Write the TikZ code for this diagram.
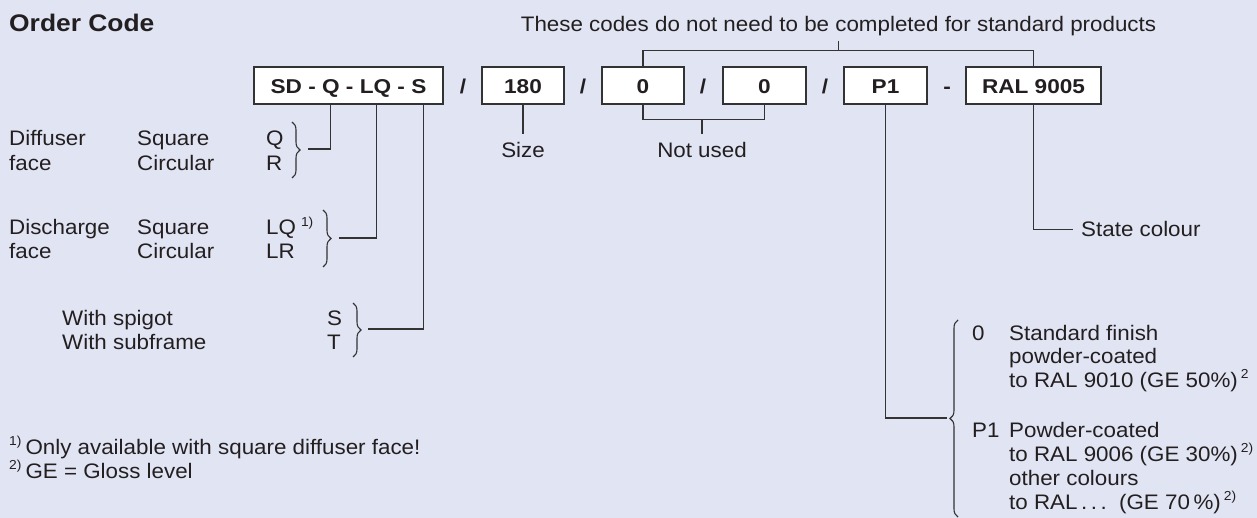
\documentclass[tikz,border=0pt]{standalone}
\usepackage{fontspec}
\setmainfont{Liberation Sans}[FakeStretch=1.065]
\newfontfamily\bw{Liberation Sans Bold}[FakeStretch=1.13]
\newfontfamily\bt{Liberation Sans Bold}[FakeStretch=1.1]
\usetikzlibrary{decorations.pathreplacing,calc}
\definecolor{bgc}{HTML}{E0E4F3}
\definecolor{txt}{HTML}{231F20}
\definecolor{lnc}{HTML}{333333}
\newcommand\sups[1]{\raisebox{0.42em}{\fontsize{13}{13}\selectfont #1}}
\tikzset{
  x=1pt, y=-1pt,
  lbl/.style={anchor=base west, inner sep=0pt, text=txt, font=\fontsize{21}{24}\selectfont},
  clbl/.style={anchor=base, inner sep=0pt, text=txt, font=\fontsize{21}{24}\selectfont},
  codebox/.style={draw=lnc, line width=1.3pt, fill=white, minimum height=37pt, inner sep=0pt,
     text height=17pt, text depth=0pt, text=txt, font=\bw\fontsize{20}{24}\selectfont},
  sep/.style={anchor=base, inner sep=0pt, text=txt, font=\bw\fontsize{20}{24}\selectfont},
  conn/.style={draw=lnc, line width=1.2pt},
  bracedec/.style={draw=lnc, line width=1.1pt, decorate, decoration={brace, amplitude=#1}},
}
\begin{document}
\begin{tikzpicture}
\useasboundingbox (0,0) rectangle (1257,518);
\fill[bgc] (0,0) rectangle (1257,518);

% title
\node[anchor=base west, inner sep=0pt, text=txt, font=\bt\fontsize{24}{28}\selectfont] (title) at (9,32) {Order Code};
\node[clbl] (topnote) at (838.5,32) {These codes do not need to be completed for standard products};

% code boxes
\node[codebox, minimum width=189pt] (b1) at (348.5,85.5) {SD - Q - LQ - S};
\node[codebox, minimum width=82pt] (b180) at (523,85.5) {180};
\node[codebox, minimum width=82pt] (b0a) at (643,85.5) {0};
\node[codebox, minimum width=83pt] (b0b) at (764.5,85.5) {0};
\node[codebox, minimum width=83pt] (bp1) at (885.5,85.5) {P1};
\node[codebox, minimum width=135pt] (bral) at (1033.5,85.5) {RAL 9005};
\node[sep] (s1) at (463,94) {/};
\node[sep] (s2) at (583,94) {/};
\node[sep] (s3) at (703,94) {/};
\node[sep] (s4) at (825,94) {/};
\node[sep] (s5) at (947,94) {-};

% top bracket
\draw[conn] (b0a.north) -- ++(0,-16) -| (bral.north);
\draw[conn] (topnote.base) ++(0,9) -- ++(0,10);

% not used bracket
\node[clbl] (notused) at (702,158) {Not used};
\draw[conn] (b0a.south) -- ++(0,15) coordinate (nu1) -| (b0b.south);
\draw[conn] (nu1 -| notused.base) -- ++(0,14);

% size
\node[clbl] (size) at (523,158) {Size};
\draw[conn] (b180.south) -- ++(0,29);

% diffuser face
\node[lbl] (d1) at (9,146) {Diffuser};
\node[lbl] (d2) at (9,171) {face};
\node[lbl] (d3) at (137,146) {Square};
\node[lbl] (d4) at (137,171) {Circular};
\node[lbl] (d5) at (266,146) {Q};
\node[lbl] (d6) at (266,171) {R};
\draw[bracedec=8pt] (292,122) -- (292,178);
\coordinate (tipQ) at (308,149);
\coordinate (b1q) at ($(b1.south west)+(77,0)$);
\draw[conn] (tipQ) -| (b1q);

% discharge face
\node[lbl] (e1) at (9,235) {Discharge};
\node[lbl] (e2) at (9,259) {face};
\node[lbl] (e3) at (137,235) {Square};
\node[lbl] (e4) at (137,259) {Circular};
\node[lbl] (e5) at (266,235) {LQ\hspace{5pt}\sups{1)}};
\node[lbl] (e6) at (266,259) {LR};
\draw[bracedec=8pt] (323,210) -- (323,267);
\coordinate (tipL) at (339,238);
\coordinate (b1l) at ($(b1.south west)+(123,0)$);
\draw[conn] (tipL) -| (b1l);

% spigot
\node[lbl] (f1) at (62,325) {With spigot};
\node[lbl] (f2) at (62,349) {With subframe};
\node[lbl] (f3) at (327,325) {S};
\node[lbl] (f4) at (327,349) {T};
\draw[bracedec=8pt] (353,303) -- (353,357);
\coordinate (tipS) at (368,329);
\coordinate (b1s) at ($(b1.south west)+(170,0)$);
\draw[conn] (tipS) -| (b1s);

% footnotes
\node[lbl] (fn1) at (9,454) {\sups{1)}\hspace{4pt}Only available with square diffuser face!};
\node[lbl] (fn2) at (9,478) {\sups{2)}\hspace{4pt}GE = Gloss level};

% state colour
\node[lbl, inner xsep=8pt] (state) at (1073,237) {State colour};
\draw[conn] (bral.south) |- (state.west);

% P1 options
\draw[bracedec=8pt] (958,517) -- (958,320);
\coordinate (tipP) at (947,418);
\draw[conn] (bp1.south) |- (tipP);
\node[lbl] (g0) at (972,340) {0};
\node[lbl] (g1) at (1009,340) {Standard finish};
\node[lbl] (g2) at (1009,363) {powder-coated};
\node[lbl] (g3) at (1009,387) {to RAL 9010 (GE 50\%)\hspace{3pt}\sups{2}};
\node[lbl] (h0) at (972,437) {P1};
\node[lbl] (h1) at (1009,437) {Powder-coated};
\node[lbl] (h2) at (1009,461) {to RAL 9006 (GE 30\%)\hspace{3pt}\sups{2)}};
\node[lbl] (h3) at (1009,485) {other colours};
\node[lbl] (h4) at (1009,509) {to RAL\,.\,.\,.\ \ (GE 70\,\%)\hspace{3pt}\sups{2)}};
\end{tikzpicture}
\end{document}
